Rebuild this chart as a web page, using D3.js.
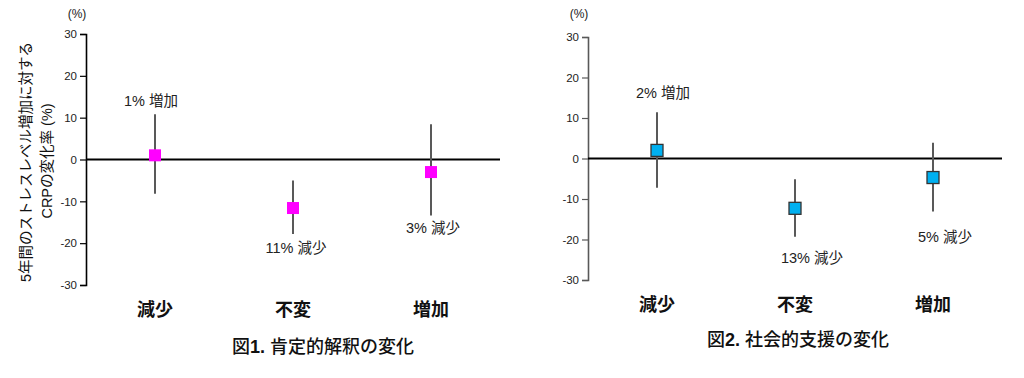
<!DOCTYPE html>
<html><head><meta charset="utf-8">
<script src="https://cdn.jsdelivr.net/npm/d3@7"></script>
<style>
html,body{margin:0;padding:0;background:#fff;}
text{font-family:"Liberation Sans","Noto Sans CJK JP",sans-serif;}
</style></head>
<body><svg id="c" width="1024" height="378"></svg>
<script>
const categories = ["減少", "不変", "増加"];
const yTicks = [30, 20, 10, 0, -10, -20, -30];

const p1Values = [1.0, -11.6, -3.0];
const p1Low = [-8.2, -17.8, -13.4];
const p1High = [10.8, -5.0, 8.4];
const p1Labels = ["1% 増加", "11% 減少", "3% 減少"];
const p1Title = ["図", "1.", " 肯定的解釈の変化"];

const p2Values = [2.0, -12.3, -4.7];
const p2Low = [-7.2, -19.3, -13.1];
const p2High = [11.4, -5.1, 3.9];
const p2Labels = ["2% 増加", "13% 減少", "5% 減少"];
const p2Title = ["図", "2.", " 社会的支援の変化"];

const yTitle = ["5年間のストレスレベル増加に対する", "CRPの変化率 (%)"];

const svg = d3.select("#c");

function panel(o) {
  const g = svg.append("g");
  const x = d3.scaleBand().domain(categories).range([o.x0, o.x1]);
  const y = d3.scaleLinear().domain([-30, 30]).range([o.yb, o.yt]);
  const cx = c => x(c) + x.bandwidth() / 2;

  // y axis
  const ax = g.append("g").attr("transform", `translate(${o.x0},0)`)
    .call(d3.axisLeft(y).tickValues(yTicks).tickSize(6).tickPadding(3).tickFormat(d => String(d)));
  ax.select(".domain").attr("stroke", o.axisColor).attr("stroke-width", 1.6);
  ax.selectAll(".tick line").attr("stroke", o.axisColor).attr("stroke-width", 1.2);
  ax.selectAll(".tick text").attr("fill", "#222").attr("font-size", 11.5)
    .style("font-family", '"Liberation Sans", sans-serif');

  g.append("text").attr("x", o.x0 - 9).attr("y", 18).attr("text-anchor", "middle")
    .attr("font-size", 12).attr("fill", "#222").text("(%)");

  // zero line
  g.append("line").attr("x1", o.x0).attr("x2", o.x1).attr("y1", y(0)).attr("y2", y(0))
    .attr("stroke", "#000").attr("stroke-width", 2);

  // error bars
  g.selectAll(".err").data(categories).enter().append("line")
    .attr("x1", cx).attr("x2", cx)
    .attr("y1", (d, i) => y(o.high[i])).attr("y2", (d, i) => y(o.low[i]))
    .attr("stroke", "#595959").attr("stroke-width", 2);

  // markers
  const s = o.ms;
  g.selectAll(".m").data(categories).enter().append("rect")
    .attr("x", d => cx(d) - s / 2).attr("y", (d, i) => y(o.values[i]) - s / 2)
    .attr("width", s).attr("height", s)
    .attr("fill", o.fill).attr("stroke", o.stroke).attr("stroke-width", o.stroke === "none" ? 0 : 1.3);

  // value labels
  g.selectAll(".lab").data(categories).enter().append("text")
    .attr("x", (d, i) => cx(d) + o.labDx[i]).attr("y", (d, i) => o.labY[i])
    .attr("text-anchor", "middle").attr("font-size", 14.5).attr("fill", "#222")
    .text((d, i) => o.labels[i]);

  // category labels
  g.selectAll(".cat").data(categories).enter().append("text")
    .attr("x", cx).attr("y", o.catY).attr("text-anchor", "middle")
    .attr("font-size", 18).attr("font-weight", "bold").attr("fill", "#111")
    .text(d => d);

  // title
  const t = g.append("text").attr("x", o.titleX).attr("y", o.titleY).attr("text-anchor", "middle")
    .attr("font-size", 18).attr("font-weight", 500).attr("fill", "#111");
  t.selectAll("tspan").data(o.title).enter().append("tspan")
    .attr("font-weight", (d, i) => i === 1 ? "bold" : 500).text(d => d);
}

panel({x0: 86, x1: 500, yt: 34, yb: 285, axisColor: "#000",
  values: p1Values, low: p1Low, high: p1High, labels: p1Labels,
  labDx: [-4, 3, 2], labY: [106, 253, 233],
  fill: "#FF00FF", stroke: "none", ms: 12,
  catY: 316, title: p1Title, titleX: 323, titleY: 353});

panel({x0: 588, x1: 1002, yt: 37, yb: 280, axisColor: "#595959",
  values: p2Values, low: p2Low, high: p2High, labels: p2Labels,
  labDx: [6, 17, 12], labY: [98, 263, 242],
  fill: "#00B0F0", stroke: "#333", ms: 12,
  catY: 311, title: p2Title, titleX: 798, titleY: 346});

// y-axis title (left panel)
const yt = svg.append("g");
yt.append("text").attr("transform", "translate(31,162) rotate(-90)")
  .attr("text-anchor", "middle").attr("font-size", 14.5).attr("fill", "#111").text(yTitle[0]);
yt.append("text").attr("transform", "translate(52,161) rotate(-90)")
  .attr("text-anchor", "middle").attr("font-size", 14.5).attr("fill", "#111").text(yTitle[1]);
</script></body></html>
